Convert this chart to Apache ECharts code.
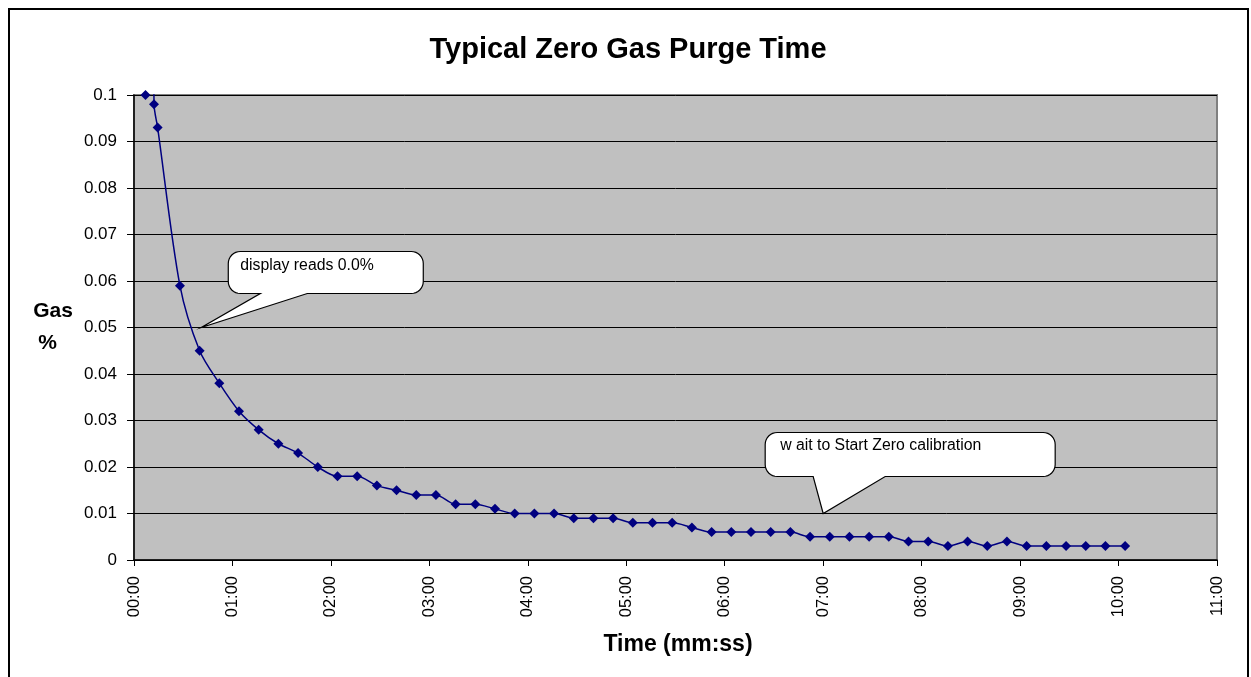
<!DOCTYPE html>
<html>
<head>
<meta charset="utf-8">
<script src="https://cdn.jsdelivr.net/npm/echarts@6/dist/echarts.min.js"></script>
<style>
html,body{margin:0;padding:0;background:#fff;}
#chart{width:1251px;height:677px;}
</style>
</head>
<body>
<div id="chart"></div>
<script>
// Time in seconds since start
const timesSec = [7, 12, 12.2, 14.4, 28, 40, 52, 64, 76, 88, 100, 112, 124, 136, 148, 160, 172, 184, 196, 208, 220, 232, 244, 256, 268, 280, 292, 304, 316, 328, 340, 352, 364, 376, 388, 400, 412, 424, 436, 448, 460, 472, 484, 496, 508, 520, 532, 544, 556, 568, 580, 592, 604];
// Gas %
const gasValues = [0.1, 0.12, 0.098, 0.093, 0.059, 0.045, 0.038, 0.032, 0.028, 0.025, 0.023, 0.020, 0.018, 0.018, 0.016, 0.015, 0.014, 0.014, 0.012, 0.012, 0.011, 0.010, 0.010, 0.010, 0.009, 0.009, 0.009, 0.008, 0.008, 0.008, 0.007, 0.006, 0.006, 0.006, 0.006, 0.006, 0.005, 0.005, 0.005, 0.005, 0.005, 0.004, 0.004, 0.003, 0.004, 0.003, 0.004, 0.003, 0.003, 0.003, 0.003, 0.003, 0.003];
const yTickLabels = ['0', '0.01', '0.02', '0.03', '0.04', '0.05', '0.06', '0.07', '0.08', '0.09', '0.1'];
const titleText = 'Typical Zero Gas Purge Time';
const xAxisTitle = 'Time (mm:ss)';
const yAxisTitleLine1 = 'Gas';
const yAxisTitleLine2 = '%';
// Callouts: anchor point in data coordinates + text
const callout1 = { text: 'display reads 0.0%', anchor: [41, 0.05] };
const callout2 = { text: 'w ait to Start Zero calibration', anchor: [420, 0.01] };

const FONT = '"Liberation Sans", Arial, sans-serif';
const pad = n => (n < 10 ? '0' : '') + n;
const fmtTime = v => pad(Math.floor(v / 60)) + ':' + pad(Math.round(v % 60));

const chart = echarts.init(document.getElementById('chart'), null, { renderer: 'canvas' });
const seriesData = timesSec.map((t, i) => [t, gasValues[i]]);

chart.setOption({
  animation: false,
  backgroundColor: '#ffffff',
  textStyle: { fontFamily: FONT },
  grid: {
    left: 134, right: 34, top: 95, bottom: 117,
    show: true, backgroundColor: '#C0C0C0', borderColor: '#808080', borderWidth: 2
  },
  xAxis: {
    type: 'value', min: 0, max: 660, interval: 60,
    axisLine: { show: true, onZero: false, lineStyle: { color: '#000', width: 1.5 } },
    axisTick: { show: true, length: 6, lineStyle: { color: '#000' } },
    axisLabel: { rotate: 90, margin: 16, fontSize: 16.5, color: '#000', fontFamily: FONT, formatter: fmtTime, showMaxLabel: true, showMinLabel: true },
    splitLine: { show: false }
  },
  yAxis: {
    type: 'value', min: 0, max: 0.1, interval: 0.01,
    axisLine: { show: true, lineStyle: { color: '#000', width: 1.5 } },
    axisTick: { show: true, length: 7, lineStyle: { color: '#000' } },
    axisLabel: { margin: 17, fontSize: 17, color: '#000', fontFamily: FONT,
      formatter: (v) => yTickLabels[Math.round(v * 100)] },
    splitLine: { show: true, lineStyle: { color: '#000', width: 1 } }
  },
  series: [{
    type: 'line',
    data: seriesData,
    smooth: 0.3,
    clip: true,
    symbol: 'diamond',
    symbolSize: 10,
    lineStyle: { color: '#000080', width: 1.5 },
    itemStyle: { color: '#000080' }
  }]
});

function arc(pts, cx, cy, r, a0, a1) {
  const n = 8;
  for (let i = 0; i <= n; i++) {
    const a = (a0 + (a1 - a0) * i / n) * Math.PI / 180;
    pts.push([cx + r * Math.cos(a), cy + r * Math.sin(a)]);
  }
}

function calloutGraphic(c, o) {
  const p = chart.convertToPixel({ gridIndex: 0 }, c.anchor);
  const tx = p[0], ty = p[1];
  const L = tx + o.l, R = tx + o.r, T = ty + o.t, B = ty + o.b, r = 12;
  const pts = [];
  arc(pts, R - r, T + r, r, -90, 0);
  arc(pts, R - r, B - r, r, 0, 90);
  pts.push([tx + o.br, B], [tx, ty], [tx + o.bl, B]);
  arc(pts, L + r, B - r, r, 90, 180);
  arc(pts, L + r, T + r, r, 180, 270);
  return [
    { type: 'polygon', shape: { points: pts }, style: { fill: '#fff', stroke: '#000', lineWidth: 1.2 }, z: 100 },
    { type: 'text', x: L + o.tx, y: T + o.ty, style: { text: c.text, fontSize: 15.8, fontFamily: FONT, fill: '#000', verticalAlign: 'middle' }, z: 101 }
  ];
}

chart.setOption({
  graphic: [
    { type: 'rect', shape: { x: 9, y: 9, width: 1239, height: 700 }, style: { fill: 'none', stroke: '#000', lineWidth: 2 }, z: 100 },
    { type: 'text', x: 628, y: 50, style: { text: titleText, fontSize: 29, fontWeight: 'bold', fontFamily: FONT, fill: '#000', align: 'center', verticalAlign: 'middle' }, z: 100 },
    { type: 'text', x: 53, y: 311, style: { text: yAxisTitleLine1, fontSize: 21, fontWeight: 'bold', fontFamily: FONT, fill: '#000', align: 'center', verticalAlign: 'middle' }, z: 100 },
    { type: 'text', x: 47.5, y: 343, style: { text: yAxisTitleLine2, fontSize: 21, fontWeight: 'bold', fontFamily: FONT, fill: '#000', align: 'center', verticalAlign: 'middle' }, z: 100 },
    { type: 'text', x: 678, y: 645, style: { text: xAxisTitle, fontSize: 23, fontWeight: 'bold', fontFamily: FONT, fill: '#000', align: 'center', verticalAlign: 'middle' }, z: 100 },
    ...calloutGraphic(callout1, { l: 27, r: 222, t: -76, b: -34, bl: 59, br: 106, tx: 12, ty: 14 }),
    ...calloutGraphic(callout2, { l: -58, r: 232, t: -81, b: -37, bl: -10, br: 62, tx: 15, ty: 13 })
  ]
});
</script>
</body>
</html>
